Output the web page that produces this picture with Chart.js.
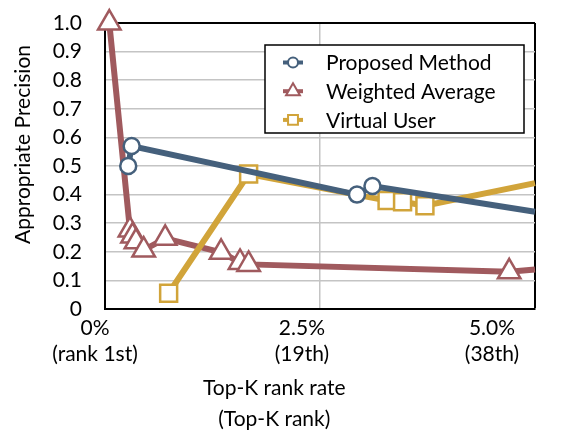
<!DOCTYPE html>
<html>
<head>
<meta charset="utf-8">
<script src="https://cdn.jsdelivr.net/npm/chart.js@4.4.1/dist/chart.umd.min.js"></script>
<style>
  html, body { margin: 0; padding: 0; background: #fff; }
</style>
</head>
<body>
<canvas id="chart" width="567" height="432"></canvas>
<script>
// x = top-K rank rate (%), y = appropriate precision
const proposedX = [0.27, 0.31, 2.93, 3.11, 5.0];
const proposedY = [0.50, 0.57, 0.40, 0.43, 0.34];

const weightedX = [0.05, 0.29, 0.32, 0.36, 0.45, 0.70, 1.35, 1.57, 1.67, 4.70, 5.0];
const weightedY = [1.0, 0.276, 0.255, 0.235, 0.206, 0.247, 0.198, 0.163, 0.156, 0.130, 0.138];

const virtualX = [0.74, 1.67, 3.28, 3.46, 3.72, 5.0];
const virtualY = [0.055, 0.472, 0.379, 0.375, 0.361, 0.44];

const seriesNames = ['Proposed Method', 'Weighted Average', 'Virtual User'];
const xTickLabels = [['0%', '(rank 1st)'], ['2.5%', '(19th)'], ['5.0%', '(38th)']];
const xTitle = ['Top-K rank rate', '(Top-K rank)'];
const yTitle = 'Appropriate Precision';

const BLUE = '#45607c';
const RED = '#a05a5e';
const GOLD = '#d1a43a';
const GRID = '#c4c4c4';
const FONT = { family: 'Lato, "Open Sans", sans-serif', size: 21 };

function toPoints(xs, ys) {
  return xs.map((x, i) => ({ x: x, y: ys[i] }));
}

// hide the marker on the last point, which only carries the line to the frame edge
const radiusUnlessEdge = r => ctx => (ctx.raw && ctx.raw.x >= 5 ? 0 : r);

function drawMarker(ctx, style, x, y, r) {
  ctx.beginPath();
  if (style === 'circle') {
    ctx.arc(x, y, r, 0, Math.PI * 2);
  } else if (style === 'triangle') {
    ctx.moveTo(x, y - r);
    ctx.lineTo(x + r * 0.866, y + r * 0.5);
    ctx.lineTo(x - r * 0.866, y + r * 0.5);
    ctx.closePath();
  } else {
    const s = r * Math.SQRT1_2;
    ctx.rect(x - s, y - s, 2 * s, 2 * s);
  }
  ctx.fill();
  ctx.stroke();
}

const legendRadius = { circle: 5, triangle: 8, rect: 7 };

const boxLegend = {
  id: 'boxLegend',
  afterDatasetsDraw(chart) {
    const { ctx, chartArea } = chart;
    const w = 259, h = 88;
    const x0 = chartArea.right - 11 - w;
    const y0 = chartArea.top + 22;
    ctx.save();
    ctx.fillStyle = '#fff';
    ctx.fillRect(x0, y0, w, h);
    ctx.lineWidth = 1.5;
    ctx.strokeStyle = '#000';
    ctx.strokeRect(x0, y0, w, h);
    chart.data.datasets.forEach((ds, i) => {
      const cy = y0 + 17.5 + i * 28.7;
      const cx = x0 + 28;
      ctx.strokeStyle = ds.borderColor;
      ctx.lineWidth = 4;
      ctx.beginPath();
      ctx.moveTo(cx - 10, cy);
      ctx.lineTo(cx + 10, cy);
      ctx.stroke();
      ctx.fillStyle = '#fff';
      ctx.lineWidth = 2;
      drawMarker(ctx, ds.pointStyle, cx, cy, legendRadius[ds.pointStyle]);
      ctx.fillStyle = '#000';
      ctx.font = FONT.size + 'px ' + FONT.family;
      ctx.textBaseline = 'middle';
      ctx.textAlign = 'left';
      ctx.fillText(ds.label, x0 + 61, cy + 1);
    });
    ctx.restore();
  }
};

function series(label, xs, ys, color, style, r, order) {
  return {
    label: label,
    data: toPoints(xs, ys),
    borderColor: color,
    borderWidth: 6,
    pointStyle: style,
    pointRadius: radiusUnlessEdge(r),
    pointBorderWidth: 2.5,
    pointBorderColor: color,
    pointBackgroundColor: '#fff',
    clip: false,
    order: order
  };
}

new Chart(document.getElementById('chart'), {
  type: 'line',
  data: {
    datasets: [
      series(seriesNames[0], proposedX, proposedY, BLUE, 'circle', 8, 0),
      series(seriesNames[1], weightedX, weightedY, RED, 'triangle', 13, 2),
      series(seriesNames[2], virtualX, virtualY, GOLD, 'rect', 12, 1)
    ]
  },
  options: {
    responsive: false,
    animation: false,
    layout: { padding: { top: 23, right: 32, left: 0, bottom: 0 } },
    plugins: { legend: { display: false }, tooltip: { enabled: false } },
    scales: {
      x: {
        type: 'linear',
        min: 0,
        max: 5,
        ticks: { display: false, stepSize: 2.5 },
        grid: {
          drawTicks: false,
          color: c => (c.tick && c.tick.value === 5 ? '#000' : GRID),
          lineWidth: c => (c.tick && c.tick.value === 5 ? 2 : 1.5)
        },
        border: { color: '#000', width: 2 }
      },
      x2: {
        type: 'linear',
        position: 'bottom',
        min: 0,
        max: 5,
        grid: { display: false },
        border: { display: false },
        // labels sit a little left of their gridlines in the original
        afterBuildTicks: s => { s.ticks = [-0.116, 2.29, 4.5].map(v => ({ value: v })); },
        afterFit: s => { s.height = 123; },
        ticks: {
          autoSkip: false,
          maxRotation: 0,
          padding: -2,
          color: '#000',
          font: Object.assign({ lineHeight: 1.25 }, FONT),
          callback: (v, i) => xTickLabels[i]
        },
        title: {
          display: true,
          text: xTitle.map(t => t + '                 '),
          color: '#000',
          font: Object.assign({ lineHeight: 1.45 }, FONT),
          padding: { top: 0, bottom: -2 }
        }
      },
      y: {
        min: 0,
        max: 1,
        afterFit: s => { s.width = 105; },
        ticks: {
          stepSize: 0.1,
          autoSkip: false,
          padding: 3,
          color: '#000',
          font: FONT,
          callback: v => (v === 0 ? '0' : v.toFixed(1))
        },
        grid: {
          // invisible tick marks keep the labels clear of the frame
          tickLength: 20,
          tickColor: 'rgba(0,0,0,0)',
          color: c => (c.tick && c.tick.value === 1 ? '#000' : GRID),
          lineWidth: c => (c.tick && c.tick.value === 1 ? 2 : 1.5)
        },
        border: { color: '#000', width: 2 },
        title: {
          display: true,
          text: '        ' + yTitle,
          color: '#000',
          font: Object.assign({ lineHeight: 1.2 }, FONT),
          padding: { top: 11, bottom: 0 }
        }
      }
    }
  },
  plugins: [boxLegend]
});
</script>
</body>
</html>
